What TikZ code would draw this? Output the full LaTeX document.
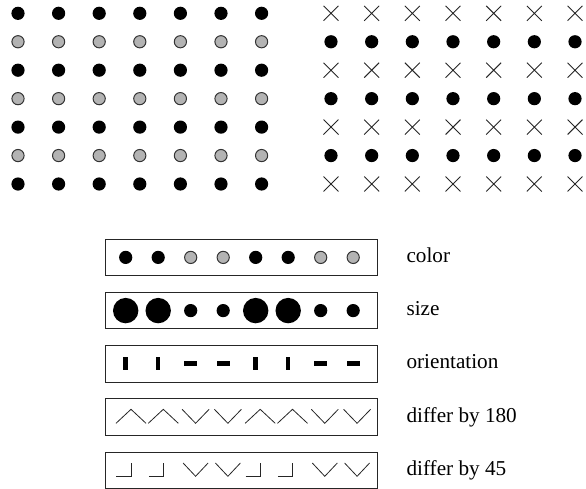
\documentclass[tikz,border=0pt]{standalone}
\usepackage{fontspec}
\setmainfont{Liberation Serif}
\usepackage{tikz}
\usetikzlibrary{shapes.misc,positioning}
\definecolor{DotGray}{RGB}{179,179,179}
\definecolor{RimGray}{RGB}{51,51,51}

\begin{document}
\begin{tikzpicture}[x=0.5pt,y=-0.5pt,
  fulldot/.style={circle,fill=black,inner sep=0pt,minimum size=6.6pt},
  greydot/.style={circle,draw=RimGray,fill=DotGray,line width=0.5pt,inner sep=0pt,minimum size=6.1pt},
  bigdot/.style={circle,fill=black,inner sep=0pt,minimum size=12.7pt},
  xmark/.style={cross out,draw=black!85,line width=0.45pt,inner sep=0pt,minimum size=7pt},
  strip/.style={draw=black!85,line width=0.5pt,minimum width=136.3pt,minimum height=18.3pt,inner sep=0pt},
  tagtext/.style={font=\fontsize{10.6}{12}\selectfont,inner sep=0pt,text height=7pt,text depth=2.1pt},
  vbar/.style={fill=black,inner sep=0pt,minimum width=2.2pt,minimum height=6.4pt},
  hbar/.style={fill=black,inner sep=0pt,minimum width=6.6pt,minimum height=2.2pt},
  stroke/.style={draw=black!85,line width=0.4pt},
]
\useasboundingbox (0,0) rectangle (586,489);

% two grids
\foreach \r/\kind in {0/fulldot,1/greydot,2/fulldot,3/greydot,4/fulldot,5/greydot,6/fulldot}
  \foreach \c in {0,...,6}
    \node[\kind] (p-\r-\c) at ({18+40.6*\c},{13.3+28.45*\r}) {};
\foreach \r/\kind in {0/xmark,1/fulldot,2/xmark,3/fulldot,4/xmark,5/fulldot,6/xmark}
  \foreach \c in {0,...,6}
    \node[\kind] (q-\r-\c) at ({331+40.67*\c},{13.3+28.45*\r}) {};

% strips
\node[strip] (colorbox) at (241.35,257.4) {};
\node[strip] (sizebox) at (241.35,310.6) {};
\node[strip] (orientbox) at (241.35,363.9) {};
\node[strip] (flipbox) at (241.35,417.1) {};
\node[strip] (tiltbox) at (241.35,470.3) {};

\node[tagtext,right=14pt of colorbox] (colorlbl) {color};
\node[tagtext,right=14pt of sizebox] (sizelbl) {size};
\node[tagtext,right=14pt of orientbox] (orientlbl) {orientation};
\node[tagtext,right=14pt of flipbox] (fliplbl) {differ by 180};
\node[tagtext,right=14pt of tiltbox] (tiltlbl) {differ by 45};

% strip contents
\foreach \k/\kind in {0/fulldot,1/fulldot,2/greydot,3/greydot,4/fulldot,5/fulldot,6/greydot,7/greydot}
  \node[\kind] (c-\k) at ({125.7+32.5*\k},257.4) {};
\foreach \k/\kind in {0/bigdot,1/bigdot,2/fulldot,3/fulldot,4/bigdot,5/bigdot,6/fulldot,7/fulldot}
  \node[\kind] (s-\k) at ({125.7+32.5*\k},310.6) {};
\foreach \k/\kind in {0/vbar,1/vbar,2/hbar,3/hbar,4/vbar,5/vbar,6/hbar,7/hbar}
  \node[\kind] (o-\k) at ({125.7+32.5*\k},363.4) {};

\foreach \k in {0,1,4,5}
  \draw[stroke] ({116+32.3*\k},423.3) -- ++(15,-14) -- ++(15,14);
\foreach \k in {2,3,6,7}
  \draw[stroke] ({117.5+32.3*\k},409.3) -- ++(13.5,14) -- ++(13.5,-14);
\foreach \k in {0,1,4,5}
  \draw[stroke] ({116.5+32.3*\k},476.3) -- ++(14.5,0) -- ++(0,-13.3);
\foreach \k in {2,3,6,7}
  \draw[stroke] ({118.5+32.3*\k},463) -- ++(12.5,13.3) -- ++(12.5,-13.3);
\end{tikzpicture}
\end{document}
